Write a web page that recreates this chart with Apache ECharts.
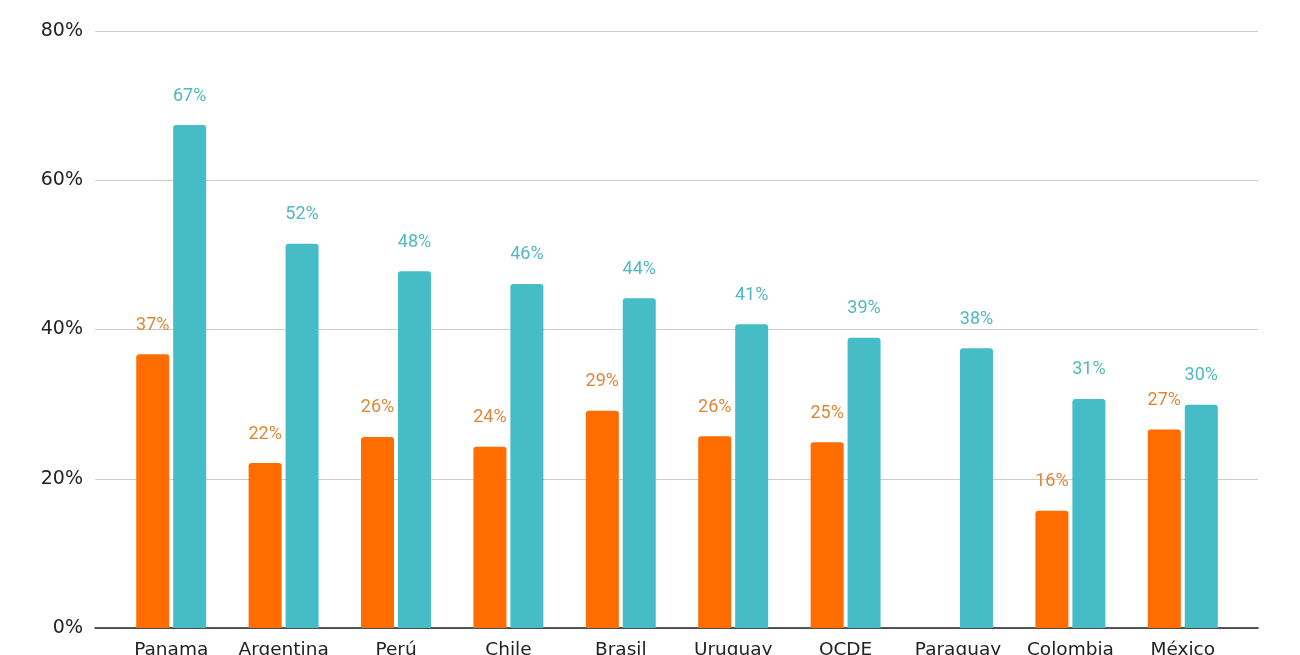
<!DOCTYPE html>
<html>
<head>
<meta charset="utf-8">
<script src="https://cdn.jsdelivr.net/npm/echarts@6/dist/echarts.min.js"></script>
<style>
  html, body { margin: 0; padding: 0; background: #fff; }
  #chart { width: 1300px; height: 655px; }
</style>
</head>
<body>
<div id="chart"></div>
<script>
// datos
var paises = ['Panama', 'Argentina', 'Perú', 'Chile', 'Brasil', 'Uruguay', 'OCDE', 'Paraguay', 'Colombia', 'México'];
var serieNaranja = [36.7, 22.1, 25.6, 24.3, 29.1, 25.7, 24.9, null, 15.7, 26.6];
var serieTurquesa = [67.4, 51.5, 47.8, 46.1, 44.2, 40.7, 38.9, 37.5, 30.7, 29.9];
var ticksY = [0, 20, 40, 60, 80];

var chart = echarts.init(document.getElementById('chart'));

function etiqueta(color) {
    return {
        show: true,
        position: 'top',
        distance: 20,
        color: color,
        fontFamily: 'Roboto',
        fontSize: 18,
        formatter: function (p) { return Math.round(p.value) + '%'; }
    };
}

var option = {
    animation: false,
    // grid 0: líneas y eje Y (ancho completo); grid 1: barras (un poco más estrecho)
    grid: [
        { left: 95, right: 42, top: 31, bottom: 27, outerBoundsMode: 'none' },
        { left: 115, right: 61, top: 31, bottom: 27, outerBoundsMode: 'none' }
    ],
    xAxis: [
        {
            gridIndex: 0,
            type: 'category',
            data: paises,
            axisTick: { show: false },
            axisLabel: { show: false },
            axisLine: { lineStyle: { color: '#222', width: 1.5 } }
        },
        {
            gridIndex: 1,
            type: 'category',
            data: paises,
            axisTick: { show: false },
            axisLine: { show: false },
            axisLabel: {
                margin: 13,
                color: '#222',
                fontFamily: 'DejaVu Sans',
                fontSize: 18.5,
                interval: 0
            }
        }
    ],
    yAxis: [
        {
            gridIndex: 0,
            type: 'value',
            min: ticksY[0],
            max: ticksY[ticksY.length - 1],
            interval: 20,
            axisLine: { show: false },
            axisTick: { show: false },
            axisLabel: {
                margin: 12,
                color: '#222',
                fontFamily: 'DejaVu Sans',
                fontSize: 19,
                formatter: '{value}%'
            },
            splitLine: { lineStyle: { color: '#cccccc', width: 1.2 } }
        },
        {
            gridIndex: 1,
            type: 'value',
            min: ticksY[0],
            max: ticksY[ticksY.length - 1],
            interval: 20,
            show: false,
            splitLine: { show: false }
        }
    ],
    series: [
        {
            type: 'bar',
            xAxisIndex: 1,
            yAxisIndex: 1,
            data: serieNaranja,
            barWidth: 33,
            barGap: '12%',
            itemStyle: { color: '#ff6d00', borderRadius: [3, 3, 0, 0] },
            label: etiqueta('#de873a')
        },
        {
            type: 'bar',
            xAxisIndex: 1,
            yAxisIndex: 1,
            data: serieTurquesa,
            barWidth: 33,
            itemStyle: { color: '#46bdc6', borderRadius: [3, 3, 0, 0] },
            label: etiqueta('#52b8c3')
        }
    ]
};

chart.setOption(option);
</script>
</body>
</html>
